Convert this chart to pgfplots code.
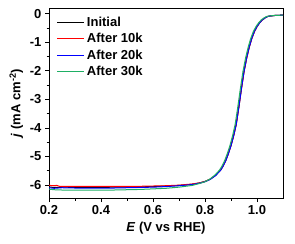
\documentclass[border=0pt]{standalone}
\usepackage{fontspec}
\setmainfont{Liberation Sans}
\usepackage{pgfplots}
\pgfplotsset{compat=1.18}
\definecolor{mygreen}{RGB}{30,175,100}
\pgfplotsset{myleg/.style={legend image code/.code={\draw[#1, line width=1.1pt] (0pt,0pt) -- (27pt,0pt);}}}
\begin{document}
\begin{tikzpicture}
\begin{axis}[
 width=234pt, height=190pt, scale only axis,
 xmin=0.2, xmax=1.1, ymin=-6.45, ymax=0.2,
 xtick={0.2,0.4,0.6,0.8,1.0}, minor x tick num=1,
 ytick={-6,-5,-4,-3,-2,-1,0}, minor y tick num=1,
 tick pos=left, tick align=outside,
 major tick length=4pt, minor tick length=2.5pt,
 axis line style={line width=0.8pt},
 every tick/.style={black, line width=0.8pt},
 /pgf/number format/assume math mode=true,
 ticklabel style={font=\fontsize{13}{13}\selectfont\bfseries},
 xticklabel style={/pgf/number format/.cd, fixed, fixed zerofill, precision=1},
 yticklabel style={/pgf/number format/.cd, fixed, precision=0},
 xlabel={\textbf{\textit{E} (V vs RHE)}},
 ylabel={\textbf{\textit{j} (mA cm\textsuperscript{-2})}},
 label style={font=\fontsize{13}{13}\selectfont\bfseries},
 legend style={draw=none, fill=none, at={(0.02,0.975)}, anchor=north west,
   font=\fontsize{13}{13}\selectfont\bfseries, row sep=1.5pt},
 legend cell align=left,
]
\addplot[black, line width=1pt, legend image code/.code={\draw[black, line width=1.1pt] (0pt,0pt) -- (27pt,0pt);}] coordinates {
(0.20,-6.07) (0.23,-6.08) (0.26,-6.07) (0.30,-6.08) (0.35,-6.08) (0.40,-6.08) (0.45,-6.07)
(0.50,-6.07) (0.55,-6.06) (0.60,-6.05) (0.65,-6.03) (0.70,-6.01) (0.75,-5.97)
(0.78,-5.92) (0.80,-5.87) (0.82,-5.79) (0.84,-5.66) (0.86,-5.47) (0.87,-5.32)
(0.88,-5.13) (0.89,-4.89) (0.90,-4.61) (0.91,-4.27) (0.92,-3.87) (0.93,-3.27)
(0.94,-2.62) (0.95,-2.02) (0.96,-1.55) (0.97,-1.17) (0.98,-0.86) (0.99,-0.62)
(1.00,-0.45) (1.01,-0.32) (1.02,-0.22) (1.03,-0.15) (1.04,-0.10) (1.05,-0.08)
(1.07,-0.06) (1.10,-0.05)};
\addlegendentry{Initial}
\addplot[red, line width=1pt, legend image code/.code={\draw[red, line width=1.1pt] (0pt,0pt) -- (27pt,0pt);}] coordinates {
(0.20,-6.00) (0.21,-6.02) (0.23,-6.01) (0.24,-6.04) (0.30,-6.04) (0.35,-6.04) (0.40,-6.04) (0.45,-6.04)
(0.50,-6.04) (0.55,-6.04) (0.60,-6.03) (0.65,-6.02) (0.70,-6.00) (0.75,-5.96)
(0.78,-5.92) (0.80,-5.87) (0.82,-5.79) (0.84,-5.66) (0.86,-5.47) (0.87,-5.32)
(0.88,-5.13) (0.89,-4.89) (0.90,-4.61) (0.91,-4.28) (0.92,-3.88) (0.93,-3.29)
(0.94,-2.64) (0.95,-2.04) (0.96,-1.57) (0.97,-1.18) (0.98,-0.87) (0.99,-0.63)
(1.00,-0.45) (1.01,-0.32) (1.02,-0.22) (1.03,-0.15) (1.04,-0.10) (1.05,-0.08)
(1.07,-0.06) (1.10,-0.05)};
\addlegendentry{After 10k}
\addplot[blue, line width=1pt, legend image code/.code={\draw[blue, line width=1.1pt] (0pt,0pt) -- (27pt,0pt);}] coordinates {
(0.20,-6.09) (0.22,-6.11) (0.25,-6.09) (0.30,-6.10) (0.35,-6.10) (0.40,-6.10) (0.45,-6.10)
(0.50,-6.09) (0.55,-6.08) (0.60,-6.07) (0.65,-6.05) (0.70,-6.02) (0.75,-5.98)
(0.78,-5.93) (0.80,-5.88) (0.82,-5.80) (0.84,-5.67) (0.86,-5.48) (0.87,-5.33)
(0.88,-5.14) (0.89,-4.90) (0.90,-4.62) (0.91,-4.28) (0.92,-3.88) (0.93,-3.28)
(0.94,-2.63) (0.95,-2.03) (0.96,-1.56) (0.97,-1.17) (0.98,-0.86) (0.99,-0.62)
(1.00,-0.45) (1.01,-0.32) (1.02,-0.22) (1.03,-0.15) (1.04,-0.10) (1.05,-0.08)
(1.07,-0.06) (1.10,-0.05)};
\addlegendentry{After 20k}
\addplot[mygreen, line width=1pt, legend image code/.code={\draw[mygreen, line width=1.1pt] (0pt,0pt) -- (27pt,0pt);}] coordinates {
(0.20,-6.14) (0.22,-6.16) (0.25,-6.17) (0.30,-6.17) (0.35,-6.17) (0.40,-6.17) (0.45,-6.17)
(0.50,-6.16) (0.55,-6.15) (0.60,-6.13) (0.65,-6.11) (0.70,-6.07) (0.75,-6.01)
(0.78,-5.94) (0.80,-5.88) (0.82,-5.78) (0.84,-5.63) (0.856,-5.47) (0.866,-5.32)
(0.876,-5.13) (0.886,-4.89) (0.896,-4.61) (0.906,-4.27) (0.916,-3.87) (0.926,-3.27)
(0.936,-2.62) (0.946,-2.02) (0.956,-1.55) (0.966,-1.17) (0.976,-0.86) (0.986,-0.62)
(0.996,-0.45) (1.006,-0.32) (1.016,-0.22) (1.026,-0.15) (1.036,-0.10) (1.046,-0.08)
(1.066,-0.06) (1.10,-0.05)};
\addlegendentry{After 30k}
\end{axis}
\path ([xshift=-49pt,yshift=-45pt]current axis.south west) rectangle ([xshift=12pt,yshift=8pt]current axis.north east);
\end{tikzpicture}
\end{document}
